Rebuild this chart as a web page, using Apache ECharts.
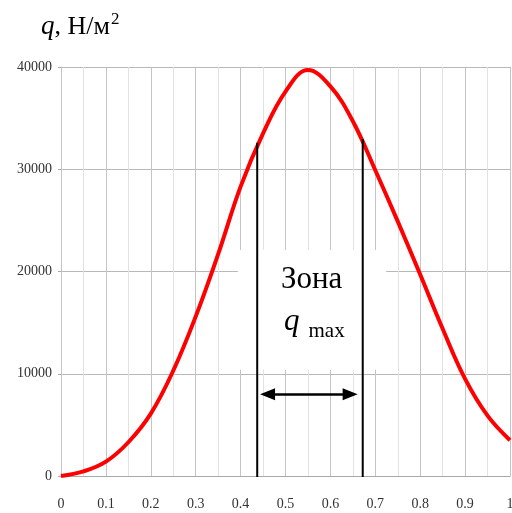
<!DOCTYPE html>
<html>
<head>
<meta charset="utf-8">
<script src="https://cdn.jsdelivr.net/npm/echarts@6/dist/echarts.min.js"></script>
<style>
  html, body { margin: 0; padding: 0; background: #fff; }
  #main { width: 512px; height: 513px; }
</style>
</head>
<body>
<div id="main"></div>
<script>
// curve q(x)
var xs = [0, 0.05, 0.1, 0.15, 0.2, 0.25, 0.3, 0.35, 0.4, 0.45, 0.5, 0.55, 0.6, 0.65, 0.7, 0.75, 0.8, 0.85, 0.9, 0.95, 1];
var qs = [0, 450, 1400, 3300, 6100, 10300, 15600, 21700, 28300, 33500, 37600, 39700, 38100, 34700, 29900, 24900, 19700, 14400, 9500, 5900, 3500];

// zone of q max
var zoneX = [0.437, 0.672];
var zoneTop = [32600, 32950];
var zoneBottom = -300;
var arrowX = [0.46, 0.644];
var arrowY = 8000;
var boxX = [0.394, 0.724];
var boxY = [10400, 22100];

var xTicks = ['0', '0.1', '0.2', '0.3', '0.4', '0.5', '0.6', '0.7', '0.8', '0.9', '1'];
var yTicks = [0, 10000, 20000, 30000, 40000];

var chart = echarts.init(document.getElementById('main'));

var curve = xs.map(function (x, i) { return [x, qs[i]]; });
var serif = '"Liberation Serif", "DejaVu Serif", serif';

var option = {
  animation: false,
  grid: { left: 61, right: 2, top: 67, bottom: 37, containLabel: false, outerBoundsMode: 'none' },
  xAxis: {
    type: 'value',
    min: 0,
    max: 1,
    interval: 0.1,
    axisLine: { show: true, lineStyle: { color: '#a8a8a8', width: 1 } },
    axisTick: { show: false },
    axisLabel: {
      margin: 21,
      color: '#333',
      fontFamily: serif,
      fontSize: 14,
      formatter: function (v) {
        var s = String(Math.round(v * 10) / 10);
        return xTicks.indexOf(s) >= 0 ? s : '';
      }
    },
    splitLine: { show: true, lineStyle: { color: '#c4c4c4', width: 1 } },
    minorTick: { show: false, splitNumber: 2 },
    minorSplitLine: { show: true, lineStyle: { color: '#e2e2e2', width: 1 } }
  },
  yAxis: {
    type: 'value',
    min: yTicks[0],
    max: yTicks[yTicks.length - 1],
    interval: 10000,
    axisLine: { show: true, lineStyle: { color: '#c4c4c4' } },
    axisTick: { show: true, length: 3, lineStyle: { color: '#aaa' } },
    axisLabel: {
      margin: 9,
      color: '#333',
      fontFamily: serif,
      fontSize: 14,
      formatter: function (v) { return String(v); }
    },
    splitLine: { show: true, lineStyle: { color: '#b8b8b8', width: 1 } }
  },
  series: [
    {
      type: 'line',
      data: [],
      silent: true,
      markArea: {
        silent: true,
        itemStyle: { color: '#ffffff', opacity: 1 },
        data: [[{ coord: [boxX[0], boxY[0]] }, { coord: [boxX[1], boxY[1]] }]]
      },
      z: 1
    },
    {
      type: 'line',
      data: curve,
      smooth: 0.4,
      showSymbol: false,
      lineStyle: { color: '#ff0000', width: 4 },
      z: 3
    },
    {
      type: 'line',
      data: [[zoneX[0], zoneBottom], [zoneX[0], zoneTop[0]]],
      showSymbol: false,
      lineStyle: { color: '#000', width: 2 },
      z: 4
    },
    {
      type: 'line',
      data: [[zoneX[1], zoneBottom], [zoneX[1], zoneTop[1]]],
      showSymbol: false,
      lineStyle: { color: '#000', width: 2 },
      z: 4,
      markLine: {
        silent: true,
        symbol: ['triangle', 'triangle'],
        symbolSize: [12, 15],
        label: { show: false },
        lineStyle: { color: '#000', width: 2.5, type: 'solid' },
        data: [[{ coord: [arrowX[0], arrowY] }, { coord: [arrowX[1], arrowY] }]]
      }
    }
  ],
  graphic: [
    {
      type: 'text',
      left: 41,
      top: 11,
      z: 100,
      style: {
        text: '{q|q}{t|, Н/м}{s|2}',
        rich: {
          q: { fontFamily: serif, fontStyle: 'italic', fontSize: 27, fill: '#000', verticalAlign: 'bottom' },
          t: { fontFamily: serif, fontSize: 26, fill: '#000', verticalAlign: 'bottom' },
          s: { fontFamily: serif, fontSize: 17, fill: '#000', verticalAlign: 'top', padding: [0, 0, 12, 1] }
        }
      }
    },
    {
      type: 'text',
      left: 281,
      top: 264,
      z: 100,
      style: { text: 'Зона', fontFamily: serif, fontSize: 31, fill: '#000' }
    },
    {
      type: 'text',
      left: 284,
      top: 306,
      z: 100,
      style: {
        text: '{q|q}{m|max}',
        rich: {
          q: { fontFamily: serif, fontStyle: 'italic', fontSize: 31, fill: '#000', verticalAlign: 'bottom' },
          m: { fontFamily: serif, fontSize: 21, fill: '#000', verticalAlign: 'bottom', padding: [0, 0, -5, 9] }
        }
      }
    }
  ]
};

chart.setOption(option);
</script>
</body>
</html>
